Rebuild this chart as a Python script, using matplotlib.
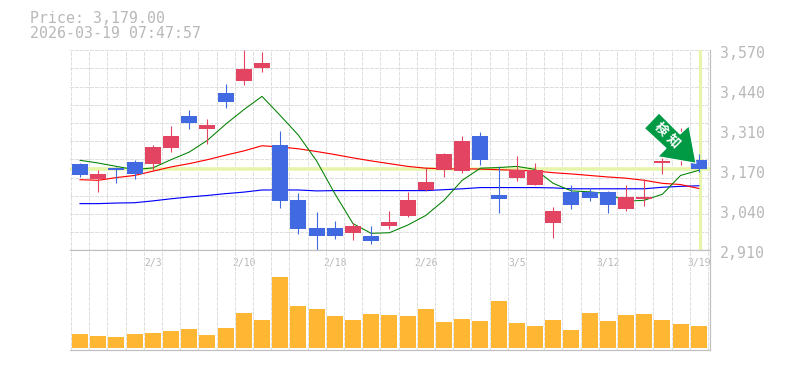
#!/usr/bin/env python3
import matplotlib
matplotlib.use("Agg")
import matplotlib.pyplot as plt
import numpy as np
from matplotlib.patches import Polygon
from matplotlib.transforms import IdentityTransform

# Daily candles, oldest first
opens = [3194, 3144, 3181, 3200, 3194, 3247, 3352, 3309, 3428, 3468, 3511, 3257, 3075, 2983, 2983, 2966, 2956, 2989,
         3022, 3108, 3174, 3171, 3286, 3091, 3148, 3125, 3000, 3101, 3101, 3101, 3045, 3078, 3197, 3230, 3207]
highs = [3197, 3174, 3184, 3207, 3257, 3319, 3372, 3342, 3458, 3570, 3563, 3303, 3098, 3035, 3006, 2999, 2989, 3039,
         3101, 3181, 3230, 3286, 3299, 3187, 3220, 3197, 3052, 3125, 3115, 3105, 3125, 3144, 3215, 3313, 3227]
lows = [3151, 3101, 3131, 3144, 3174, 3233, 3309, 3260, 3379, 3455, 3497, 3049, 2963, 2910, 2946, 2943, 2930, 2979,
        3019, 3105, 3151, 3164, 3191, 3032, 3138, 3125, 2950, 3045, 3072, 3032, 3039, 3055, 3161, 3190, 3167]
closes = [3157, 3161, 3174, 3161, 3250, 3286, 3329, 3323, 3398, 3507, 3527, 3072, 2979, 2956, 2956, 2989, 2940, 3002,
          3075, 3134, 3227, 3270, 3207, 3078, 3174, 3174, 3039, 3059, 3082, 3059, 3085, 3085, 3204, 3260, 3179]

# Moving averages
ma_short = [3207, 3198, 3187, 3176, 3182, 3209, 3234, 3273, 3326, 3374, 3418, 3355, 3290, 3205, 3097, 2998, 2966, 2968,
            2993, 3025, 3075, 3141, 3181, 3183, 3187, 3177, 3131, 3106, 3103, 3097, 3072, 3075, 3095, 3157, 3174]
ma_mid = [3143, 3141, 3150, 3157, 3171, 3185, 3196, 3209, 3224, 3238, 3255, 3251, 3245, 3236, 3226, 3215, 3205, 3196,
          3187, 3181, 3179, 3179, 3178, 3176, 3174, 3172, 3166, 3162, 3157, 3152, 3148, 3141, 3131, 3127, 3114]
ma_long = [3064, 3064, 3066, 3067, 3073, 3080, 3086, 3091, 3097, 3102, 3109, 3109, 3109, 3106, 3107, 3107, 3107, 3107,
           3107, 3107, 3110, 3113, 3117, 3117, 3117, 3117, 3116, 3113, 3113, 3113, 3113, 3113, 3118, 3121, 3123]

volumes = [42, 36, 33, 42, 45, 51, 57, 39, 60, 105, 84, 213, 126, 117, 96, 84, 102, 99,
           96, 117, 78, 87, 81, 141, 75, 66, 84, 54, 105, 81, 99, 102, 84, 72, 66]

date_idx = [4, 9, 14, 19, 24, 29, 34]
date_labels = ["2/3", "2/10", "2/18", "2/26", "3/5", "3/12", "3/19"]
price_ticks = [3570, 3438, 3306, 3174, 3042, 2910]
price_labels = ["3,570", "3,440", "3,310", "3,170", "3,040", "2,910"]
last_price = 3179

W, H = 785, 370
BLUE = "#4169e1"
RED = "#e24462"
AMBER = "#ffb733"
HILITE = "#e6f5aa"
GRID = "#dfdfdf"
EDGE = "#c0c0c0"
TEXT = "#b8b8b8"
PX = 0.72  # one pixel in points at dpi 100

plt.rcParams["font.family"] = ["DejaVu Sans Mono"]

fig = plt.figure(figsize=(W / 100, H / 100), dpi=100, facecolor="white")
left, right = 70.3 / W, 710 / W
ax = fig.add_axes([left, 1 - 250.3 / H, right - left, 200 / H])
vol = fig.add_axes([left, 1 - 350.3 / H, right - left, 100 / H])

x = np.arange(len(closes))
step = 18.2
xlim = ((70.3 - 80) / step, (710 - 80) / step)
edges = np.arange(36) - 0.5
grid_style = dict(color=GRID, lw=PX, dashes=(3, 2), antialiased=False)

for a in (ax, vol):
    a.set_xlim(xlim)
    a.set_xticks(edges, minor=True)
    a.set_axisbelow(True)
    a.grid(which="minor", axis="x", **grid_style)
    a.tick_params(which="both", length=0)
    a.spines["left"].set_visible(False)
    for s in a.spines.values():
        s.set_color(EDGE)
        s.set_linewidth(PX * 1.2)

ax.spines["top"].set_visible(False)
ax.set_ylim(2910, 3570)
ax.set_yticks(np.arange(2910, 3571, 60), minor=True)
ax.grid(which="minor", axis="y", **grid_style)
ax.set_xticks([])
ax.set_yticks([])

# current price cross
ax.axhline(last_price, color=HILITE, lw=PX * 3.6, zorder=1)
ax.axvline(x[-1] + 0.08, ymin=0.005, ymax=0.995, color=HILITE, lw=PX * 3.2, zorder=1)

ax.plot(x, ma_long, color="#0000ff", lw=PX * 1.15, zorder=2)
ax.plot(x, ma_mid, color="#ff0000", lw=PX * 1.15, zorder=2)
ax.plot(x, ma_short, color="#008000", lw=PX * 1.05, zorder=2)

colors = [BLUE if o > c else RED for o, c in zip(opens, closes)]
ax.vlines(x, lows, highs, colors=colors, lw=PX * 1.1, zorder=3)
ax.bar(x, np.abs(np.array(closes) - np.array(opens)), bottom=np.minimum(opens, closes),
       width=0.88, color=colors, zorder=3)

for tick, label in zip(price_ticks, price_labels):
    ax.annotate(label, (1, tick), xycoords=("axes fraction", "data"), xytext=(7.2, -2.1),
                textcoords="offset points", ha="left", va="center", fontsize=10.7, color=TEXT)

# alert arrow, placed in pixels
arrow_x = [644.3, 659, 680, 689, 696, 657.7, 666]
arrow_y = [128.3, 113, 134, 125.7, 163.3, 156.7, 148.3]
arrow_xy = np.column_stack([arrow_x, H - np.array(arrow_y)])
fig.add_artist(Polygon(arrow_xy, closed=True, facecolor="#009944", edgecolor="white", lw=PX * 1.2,
                       transform=IdentityTransform(), zorder=5))
for ch, cx, cy in zip("検知", [660.7, 673.3], [129.3, 141.0]):
    fig.text(cx / W, 1 - cy / H, ch, color="white", fontsize=9.5, fontweight="bold", rotation=-45,
             ha="center", va="center", family=["Noto Sans CJK JP", "DejaVu Sans"], zorder=6)

vol.set_ylim(-6, 294)
vol.bar(x, volumes, width=0.88, color=AMBER, zorder=3)
vol.set_yticks([])
vol.set_xticks(date_idx)
vol.set_xticklabels(date_labels, fontsize=7, color=TEXT)
vol.xaxis.set_ticks_position("top")
vol.tick_params(axis="x", which="major", pad=-13)

fig.text(30 / W, 1 - 18.5 / H, "Price: 3,179.00", fontsize=10.7, color=TEXT, ha="left", va="center")
fig.text(30 / W, 1 - 33 / H, "2026-03-19 07:47:57", fontsize=10.7, color=TEXT, ha="left", va="center")

fig.savefig("out.png", dpi=100)
